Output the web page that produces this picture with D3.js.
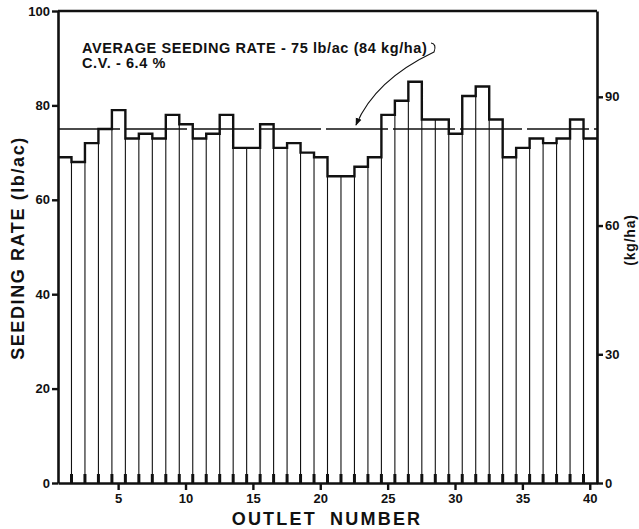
<!DOCTYPE html>
<html>
<head>
<meta charset="utf-8">
<script src="https://cdn.jsdelivr.net/npm/d3@7"></script>
<style>
body { margin: 0; background: #fff; }
text { font-family: "Liberation Sans", Arial, sans-serif; fill: #111; }
</style>
</head>
<body>
<svg id="chart" width="639" height="529"></svg>
<script>
// outlet numbers and seeding rate (lb/ac)
var outlets = d3.range(1, 41);
var rates = [69, 68, 72, 75, 79, 73, 74, 73, 78, 76,
             73, 74, 78, 71, 71, 76, 71, 72, 70, 69,
             65, 65, 67, 69, 78, 81, 85, 77, 77, 74,
             82, 84, 77, 69, 71, 73, 72, 73, 77, 73];
var average = 75;
var leftTicks = [0, 20, 40, 60, 80, 100];
var rightTicks = [0, 30, 60, 90];
var outletTicks = [5, 10, 15, 20, 25, 30, 35, 40];

var svg = d3.select('#chart');
var pLeft = 58, pRight = 597, pTop = 11, pBottom = 483;

var x = d3.scaleBand().domain(outlets).range([pLeft, pRight]).padding(0);
var y = d3.scaleLinear().domain([0, 100]).range([pBottom, pTop]);
var yKg = d3.scaleLinear().domain([0, 110]).range([pBottom, pTop]);

var data = outlets.map(function(o, i){ return {outlet: o, rate: rates[i]}; });

// thin dividers between bars
svg.append('g').selectAll('line')
  .data(data)
  .enter().append('line')
  .attr('x1', function(d){ return x(d.outlet) + x.bandwidth(); })
  .attr('x2', function(d){ return x(d.outlet) + x.bandwidth(); })
  .attr('y1', y(0))
  .attr('y2', function(d, i){
    var next = i < rates.length - 1 ? rates[i + 1] : d.rate;
    return y(Math.min(d.rate, next));
  })
  .attr('stroke', '#111').attr('stroke-width', 1.1);

// small thick marks at the foot of each divider
svg.append('g').selectAll('line')
  .data(data.slice(0, -1))
  .enter().append('line')
  .attr('x1', function(d){ return x(d.outlet) + x.bandwidth(); })
  .attr('x2', function(d){ return x(d.outlet) + x.bandwidth(); })
  .attr('y1', y(0)).attr('y2', y(0) - 9)
  .attr('stroke', '#111').attr('stroke-width', 3);

// stepped outline along bar tops
var pts = [];
data.forEach(function(d){
  pts.push([x(d.outlet), y(d.rate)]);
  pts.push([x(d.outlet) + x.bandwidth(), y(d.rate)]);
});
svg.append('path')
  .attr('d', d3.line()(pts))
  .attr('fill', 'none').attr('stroke', '#111').attr('stroke-width', 2.4);

// average line
svg.append('line')
  .attr('x1', pLeft).attr('x2', pRight)
  .attr('y1', y(average)).attr('y2', y(average))
  .attr('stroke', '#111').attr('stroke-width', 1.4)
  .attr('stroke-dasharray', '62,5');

// frame
svg.append('line').attr('x1', pLeft).attr('x2', pRight).attr('y1', pTop).attr('y2', pTop)
  .attr('stroke', '#111').attr('stroke-width', 2.6);

var leftAxis = d3.axisLeft(y).tickValues(leftTicks).tickSize(6).tickPadding(2);
var rightAxis = d3.axisRight(yKg).tickValues(rightTicks).tickSize(6).tickPadding(2);
var bottomAxis = d3.axisBottom(x).tickValues(outletTicks).tickSize(7).tickPadding(4);

function style(g){
  g.select('.domain').attr('stroke', '#111').attr('stroke-width', 2.6);
  g.selectAll('.tick line').attr('stroke', '#111').attr('stroke-width', 2.4);
  g.selectAll('.tick text').attr('font-size', 13).attr('font-weight', 'bold')
    .style('font-family', '"Liberation Sans", Arial, sans-serif').attr('fill', '#111');
}

svg.append('g').attr('transform', 'translate(' + pLeft + ',0)').call(leftAxis.tickSizeOuter(0)).call(style);
svg.append('g').attr('transform', 'translate(' + pRight + ',0)').call(rightAxis.tickSizeOuter(0)).call(style);
svg.append('g').attr('transform', 'translate(0,' + pBottom + ')').call(bottomAxis.tickSizeOuter(0)).call(style);

// axis titles
svg.append('text')
  .attr('transform', 'translate(24,248) rotate(-90)')
  .attr('text-anchor', 'middle')
  .attr('font-size', 18).attr('font-weight', 'bold')
  .attr('letter-spacing', 1.6)
  .text('SEEDING RATE (lb/ac)');

svg.append('text')
  .attr('transform', 'translate(635,240) rotate(-90)')
  .attr('text-anchor', 'middle')
  .attr('font-size', 14).attr('font-weight', 'bold')
  .attr('letter-spacing', 0.8)
  .text('(kg/ha)');

svg.append('text')
  .attr('x', 327).attr('y', 525)
  .attr('text-anchor', 'middle')
  .attr('font-size', 18).attr('font-weight', 'bold')
  .attr('letter-spacing', 2.2)
  .attr('word-spacing', 6)
  .text('OUTLET NUMBER');

// annotation
svg.append('text').attr('x', 82).attr('y', 53)
  .attr('font-size', 14.5).attr('font-weight', 'bold')
  .attr('letter-spacing', 0.6)
  .text('AVERAGE SEEDING RATE - 75 lb/ac (84 kg/ha)');
svg.append('text').attr('x', 82).attr('y', 68)
  .attr('font-size', 14.5).attr('font-weight', 'bold')
  .attr('letter-spacing', 0.6)
  .text('C.V. - 6.4 %');

svg.append('defs').append('marker')
  .attr('id', 'arr').attr('viewBox', '0 0 10 10')
  .attr('refX', 9).attr('refY', 5)
  .attr('markerWidth', 7).attr('markerHeight', 7)
  .attr('orient', 'auto')
  .append('path').attr('d', 'M0,1 L10,5 L0,9 Z').attr('fill', '#111');

svg.append('path')
  .attr('d', 'M431,43 Q437,44 434,52 Q375,80 356,125')
  .attr('fill', 'none').attr('stroke', '#111').attr('stroke-width', 1.1)
  .attr('marker-end', 'url(#arr)');
</script>
</body>
</html>
